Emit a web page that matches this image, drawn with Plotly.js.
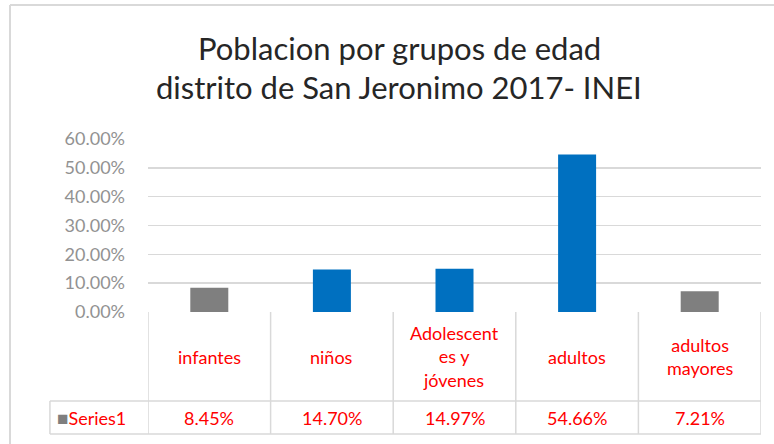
<!DOCTYPE html>
<html>
<head>
<meta charset="utf-8">
<script src="https://cdn.plot.ly/plotly-3.0.1.min.js"></script>
<style>
  html, body { margin: 0; padding: 0; background: #ffffff; }
  #chart { width: 774px; height: 444px; }
</style>
</head>
<body>
<div id="chart"></div>
<script>
// ---- data ----
const categories = ["infantes", "niños", "Adolescentes y jóvenes", "adultos", "adultos mayores"];
const tableLabels = ["infantes", "niños", "Adolescent<br>es y<br>jóvenes", "adultos", "adultos<br>mayores"];
const values = [0.0845, 0.1470, 0.1497, 0.5466, 0.0721];
const seriesName = "Series1";
const yTickVals = [0, 0.1, 0.2, 0.3, 0.4, 0.5, 0.6];
const titleLines = ["Poblacion por grupos de edad", "distrito de San Jeronimo 2017- INEI"];

// ---- styles ----
const barColors = ["#7f7f7f", "#0070c0", "#0070c0", "#0070c0", "#7f7f7f"];
const FONT = "Lato, 'Open Sans', sans-serif";
const gridCol = "#d9d9d9";
const red = "#ff0000";

// table geometry in paper units (plot area: x 148..761, y 139..312)
const rowDiv = -0.5145, rowBot = -0.7052, labelLeft = -0.16;

const shapes = [];
for (let i = 0; i <= categories.length; i++) {
  shapes.push({type: "line", xref: "x", yref: "paper", x0: i - 0.5, x1: i - 0.5, y0: 0, y1: rowBot,
               line: {color: gridCol, width: 1.5}});
}
shapes.push({type: "line", xref: "paper", yref: "paper", x0: labelLeft, x1: 1, y0: rowDiv, y1: rowDiv, line: {color: gridCol, width: 1.5}});
shapes.push({type: "line", xref: "paper", yref: "paper", x0: labelLeft, x1: 1, y0: rowBot, y1: rowBot, line: {color: gridCol, width: 1.5}});
shapes.push({type: "line", xref: "paper", yref: "paper", x0: labelLeft, x1: labelLeft, y0: rowDiv, y1: rowBot, line: {color: gridCol, width: 1.5}});
// chart border (left and top)
shapes.push({type: "line", xref: "paper", yref: "paper", x0: -0.2251, x1: -0.2251, y0: 1.7746, y1: -0.9, line: {color: "#d9d9d9", width: 2}});
shapes.push({type: "line", xref: "paper", yref: "paper", x0: -0.2251, x1: 1.1, y0: 1.7746, y1: 1.7746, line: {color: "#d9d9d9", width: 2}});

const annotations = [];
// title lines
const titleY = [1.526, 1.30];
titleLines.forEach((t, i) => {
  annotations.push({xref: "paper", yref: "paper", x: (399 - 148) / 613, y: titleY[i], text: t, showarrow: false,
                    xanchor: "center", yanchor: "middle", font: {family: FONT, size: 31, color: "#262626"}});
});
categories.forEach((c, i) => {
  annotations.push({xref: "x", yref: "paper", x: i, y: rowDiv / 2, text: tableLabels[i], showarrow: false,
                    xanchor: "center", yanchor: "middle", font: {family: FONT, size: 18, color: red}});
  annotations.push({xref: "x", yref: "paper", x: i, y: (rowDiv + rowBot) / 2,
                    text: (values[i] * 100).toFixed(2) + "%", showarrow: false,
                    xanchor: "center", yanchor: "middle", font: {family: FONT, size: 18, color: red}});
});
annotations.push({xref: "paper", yref: "paper", x: labelLeft + 0.008, y: (rowDiv + rowBot) / 2,
                  text: '<span style="color:#7f7f7f;font-size:19px">■</span>' + seriesName, showarrow: false,
                  xanchor: "left", yanchor: "middle", font: {family: FONT, size: 18, color: red}});

const trace = {
  type: "bar",
  x: categories,
  y: values,
  name: seriesName,
  marker: {color: barColors},
  width: 0.31,
  hoverinfo: "x+y"
};

const layout = {
  width: 774, height: 444,
  margin: {l: 148, r: 13, t: 139, b: 132},
  paper_bgcolor: "#ffffff", plot_bgcolor: "#ffffff",
  showlegend: false,
  xaxis: {type: "category", range: [-0.5, 4.5], showticklabels: false, showgrid: false,
          zeroline: false, showline: false, ticks: "", fixedrange: true},
  yaxis: {range: [0, 0.6], tickvals: yTickVals, tickformat: ".2%", showgrid: true, gridcolor: gridCol,
          gridwidth: 1.5, zeroline: false, showline: false, ticks: "", ticklabelstandoff: 22,
          tickfont: {family: FONT, size: 18, color: "#929292"}, fixedrange: true},
  shapes: shapes,
  annotations: annotations
};

Plotly.newPlot("chart", [trace], layout, {displayModeBar: false, staticPlot: true});
</script>
</body>
</html>
